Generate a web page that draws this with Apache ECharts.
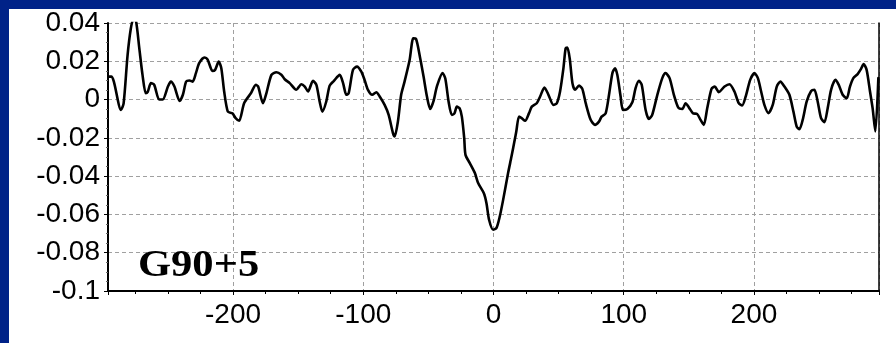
<!DOCTYPE html>
<html>
<head>
<meta charset="utf-8">
<script src="https://cdn.jsdelivr.net/npm/echarts@6/dist/echarts.min.js"></script>
<style>
  html, body { margin: 0; padding: 0; }
  body { width: 896px; height: 343px; background: #002288; position: relative; overflow: hidden; }
  #panel { position: absolute; left: 9px; top: 9px; width: 887px; height: 334px; background: #ffffff; }
  #chart { width: 887px; height: 334px; }
</style>
</head>
<body>
<div id="panel"><div id="chart"></div></div>
<script>
// Offsets (x) and signal values (y)
const xValues = [
  -295, -293.5, -291.5, -286, -284, -281, -278.5, -276.5, -274.5, -272,
  -269.5, -267, -265.5, -263, -260.5, -256.7, -254, -250, -247.7, -245,
  -241, -238.5, -236, -233.5, -231, -228.5, -226, -222, -219.5, -215.8,
  -213.8, -211, -209, -206.8, -204, -200.5, -198, -195.3, -191.5, -186.3,
  -182.5, -180.7, -177, -174.4, -170.5, -166.7, -162.9, -160.3, -156.5, -151.4,
  -147.5, -144.9, -142.4, -138.6, -136, -133.5, -131.4, -128.4, -125.8, -122.5,
  -118.1, -115.5, -113, -111.2, -107.9, -104.8, -101.5, -99, -96.4, -93.1,
  -90, -87.4, -83.6, -80.5, -77.2, -75.9, -73.4, -70.9, -68.3, -64.4,
  -61.6, -59.6, -56.3, -53.7, -51.1, -48.6, -46, -43.5, -39.1, -37,
  -34.5, -32, -30, -28.1, -26, -24.3, -22.5, -21.5, -18.2, -14.3,
  -11.8, -7.4, -5.4, -3.4, -0.3, 2.3, 4.8, 7.4, 11.2, 13.8,
  16.3, 17.5, 19.6, 21.6, 24.3, 27.3, 29.4, 33.2, 35.8, 39.1,
  42.2, 46, 48.6, 51.1, 53.7, 55.4, 56.7, 58.5, 60.6, 62.6,
  65.7, 68.2, 70.8, 74.6, 77.9, 81, 83, 86.1, 88.7, 91.3,
  93.3, 95.1, 97.6, 99.4, 102.8, 106.6, 109.1, 111.7, 113.8, 116.8,
  119.3, 121.8, 125.8, 129.6, 132.1, 135.2, 138.5, 141.9, 145, 147.5,
  150.1, 153.1, 156.4, 159, 161.5, 164.1, 167.4, 169.9, 173, 177.4,
  181.2, 185, 188.3, 190.9, 194, 197.1, 200.4, 203, 205.5, 208,
  211.1, 214.4, 217.5, 220.3, 223.4, 227.2, 230.3, 232.8, 234.9, 237.4,
  240.5, 243.9, 246.4, 248.9, 251.5, 254.1, 256.6, 259.2, 262.5, 265.1,
  268.1, 271.2, 273.7, 276.3, 279.6, 282.2, 284.2, 286.5, 289.1, 291.1,
  293.2, 295.5
];
const yValues = [
  0.012, 0.012, 0.0094, -0.0054, -0.002, 0.023, 0.037, 0.042, 0.041, 0.027,
  0.0129, 0.0033, 0.004, 0.0086, 0.0077, 0, 0, 0.0068, 0.0094, 0.0068,
  -0.0007, 0.0025, 0.0094, 0.01, 0.0094, 0.0138, 0.019, 0.022, 0.0209, 0.015,
  0.0155, 0.0198, 0.0164, 0.0042, -0.0063, -0.0072, -0.0097, -0.0111, -0.0019, 0.0033,
  0.0077, 0.0068, -0.0019, 0.0033, 0.0129, 0.0143, 0.013, 0.0106, 0.0086, 0.0051,
  0.008, 0.0068, 0.0042, 0.0098, 0.0077, -0.001, -0.0063, -0.001, 0.0073, 0.0098,
  0.0129, 0.0086, 0.0025, 0.0033, 0.0155, 0.0172, 0.0146, 0.0103, 0.0051, 0.0025,
  0.0038, 0.0016, -0.0028, -0.008, -0.0175, -0.0193, -0.0115, 0.0025, 0.0094, 0.0207,
  0.032, 0.0318, 0.0216, 0.012, 0.0016, -0.0049, -0.0007, 0.0068, 0.0138, 0.011,
  -0.001, -0.008, -0.0072, -0.0037, -0.0046, -0.0089, -0.02, -0.0289, -0.0332, -0.0384,
  -0.0436, -0.0489, -0.0541, -0.0628, -0.068, -0.067, -0.0611, -0.0524, -0.0384, -0.0298,
  -0.021, -0.0167, -0.0089, -0.0097, -0.0111, -0.0071, -0.0037, -0.0019, 0.0016, 0.0063,
  0.0025, -0.0028, -0.0019, 0.0042, 0.0164, 0.0268, 0.0272, 0.0216, 0.0086, 0.0051,
  0.0073, 0.0056, -0.0019, -0.0106, -0.0132, -0.0115, -0.0089, -0.0072, 0.0025, 0.0138,
  0.0164, 0.0129, 0.0016, -0.0054, -0.0049, -0.0014, 0.006, 0.0098, 0.0077, -0.0054,
  -0.0101, -0.0081, 0.0025, 0.0112, 0.0138, 0.0112, 0.0025, -0.0042, -0.0049, -0.0019,
  -0.0042, -0.0071, -0.0076, -0.0106, -0.0132, -0.0045, 0.0056, 0.0068, 0.0039, 0.0068,
  0.008, 0.0042, -0.0019, -0.0031, 0.0025, 0.0103, 0.0138, 0.0112, 0.0042, -0.0028,
  -0.0071, -0.0028, 0.0068, 0.0094, 0.0068, 0.0025, -0.0063, -0.0141, -0.0155, -0.0106,
  -0.001, 0.0045, 0.0051, -0.001, -0.0097, -0.0118, -0.0045, 0.0051, 0.0103, 0.0077,
  0.0025, 0.0007, 0.0068, 0.0112, 0.0133, 0.016, 0.0185, 0.0155, 0.0042, -0.0045,
  -0.0167, 0.0112
];
const xRange = [-296, 296];
const yRange = [-0.1, 0.04];
const yStep = 0.02;
const panelLabel = 'G90+5';

const seriesData = xValues.map((x, i) => [x, yValues[i]]);

const chart = echarts.init(document.getElementById('chart'), null, { renderer: 'canvas' });
const gridLine = { show: true, lineStyle: { color: '#a0a0a0', type: [4, 3], width: 1 } };
const labelFont = { fontFamily: '"Liberation Sans", Arial, sans-serif', fontSize: 28, color: '#000' };

chart.setOption({
  animation: false,
  grid: { left: 99, top: 14, right: 17, bottom: 52, containLabel: false },
  xAxis: {
    type: 'value',
    min: xRange[0],
    max: xRange[1],
    axisLine: { show: true, onZero: false, lineStyle: { color: '#000', width: 2 } },
    axisTick: { show: true, inside: false, length: 4, lineStyle: { color: '#000', width: 1 } },
    minorTick: { show: true, splitNumber: 4, length: 3, lineStyle: { color: '#000', width: 1 } },
    splitLine: gridLine,
    axisLabel: Object.assign({
      margin: 10,
      showMinLabel: false,
      showMaxLabel: false,
      formatter: v => (Math.abs(v % 100) < 1e-9 ? String(Math.round(v)) : '')
    }, labelFont)
  },
  yAxis: [{
    type: 'value',
    min: yRange[0],
    max: yRange[1],
    interval: yStep,
    axisLine: { show: true, onZero: false, lineStyle: { color: '#000', width: 2 } },
    axisTick: { show: true, inside: false, length: 4, lineStyle: { color: '#000', width: 1 } },
    minorTick: { show: true, splitNumber: 4, length: 2, lineStyle: { color: '#666', width: 1 } },
    splitLine: gridLine,
    axisLabel: Object.assign({
      margin: 8,
      formatter: v => String(+v.toFixed(2))
    }, labelFont)
  }, {
    type: 'value',
    position: 'right',
    min: yRange[0],
    max: yRange[1],
    interval: yStep,
    axisLine: { show: true, onZero: false, lineStyle: { color: '#000', width: 1.5 } },
    axisTick: { show: false },
    axisLabel: { show: false },
    splitLine: { show: false }
  }],
  graphic: [{
    type: 'text',
    x: 129,
    y: 257,
    scaleX: 1.15,
    z: 100,
    style: {
      text: panelLabel,
      font: 'bold 37px "Liberation Serif", "Times New Roman", serif',
      fill: '#000',
      align: 'left',
      verticalAlign: 'middle'
    }
  }],
  series: [{
    type: 'line',
    data: seriesData,
    showSymbol: false,
    symbol: 'none',
    clip: true,
    smooth: 0.25,
    lineStyle: { color: '#000', width: 2.6, join: 'round', cap: 'round' },
    z: 10
  }]
});
</script>
</body>
</html>
